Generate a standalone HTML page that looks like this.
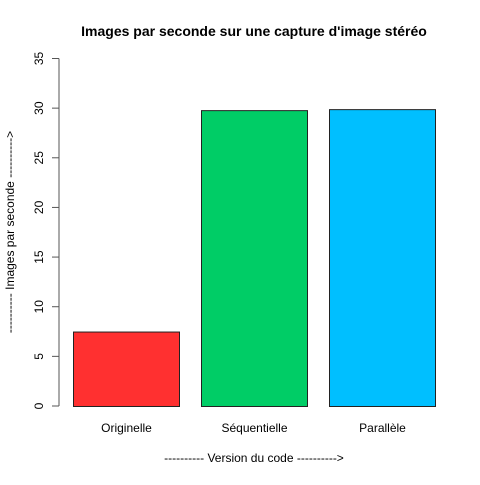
<!DOCTYPE html>
<html><head><meta charset="utf-8"><style>
body{margin:0;background:#fff}
svg text{font-family:"Liberation Sans",sans-serif;font-size:12px;fill:#000}
</style></head><body>
<svg width="480" height="480">
<text x="254" y="36" text-anchor="middle" style="font-weight:bold;font-size:14px">Images par seconde sur une capture d'image stéréo</text>
<text x="254" y="462" text-anchor="middle">---------- Version du code ----------&gt;</text>
<text transform="translate(14,232) rotate(-90)" text-anchor="middle">---------- Images par seconde ----------&gt;</text>
<g id="axis"></g>
<g id="bars"></g>
</svg>
<script>
const categories=["Originelle","Séquentielle","Parallèle"];
const values=[7.5,29.8,29.9];
const colors=["#ff3030","#00cd66","#00bfff"];
const ticks=[0,5,10,15,20,25,30,35];
const NS="http://www.w3.org/2000/svg";
const y=v=>406-v*(347.5/35);
const x0=73,bw=107,gap=21;
const ax=document.getElementById('axis'),bg=document.getElementById('bars');
function mk(t,a,p){const e=document.createElementNS(NS,t);for(const k in a)e.setAttribute(k,a[k]);p.appendChild(e);return e;}
const al=mk('line',{x1:59,x2:59,y1:y(0),y2:y(35),stroke:'#555'},ax);


ticks.forEach(t=>{
 const l=mk('line',{x1:52,x2:59,y1:y(t),y2:y(t),stroke:'#555'},ax);
 
 
 const tx=mk('text',{transform:`translate(43,${y(t)}) rotate(-90)`,'text-anchor':'middle'},ax);
 tx.textContent=t;
 
 
});
categories.forEach((c,i)=>{
 const xl=x0+i*(bw+gap);
 const r=mk('rect',{x:xl+0.5,y:y(values[i])+0.5,width:bw-1,height:y(0)-y(values[i]),fill:colors[i],stroke:'#222','stroke-width':1},bg);
 
 
 const tx=mk('text',{x:xl+bw/2,y:432,'text-anchor':'middle'},bg);
 tx.textContent=c;
 
 
});
</script>
</body></html>
